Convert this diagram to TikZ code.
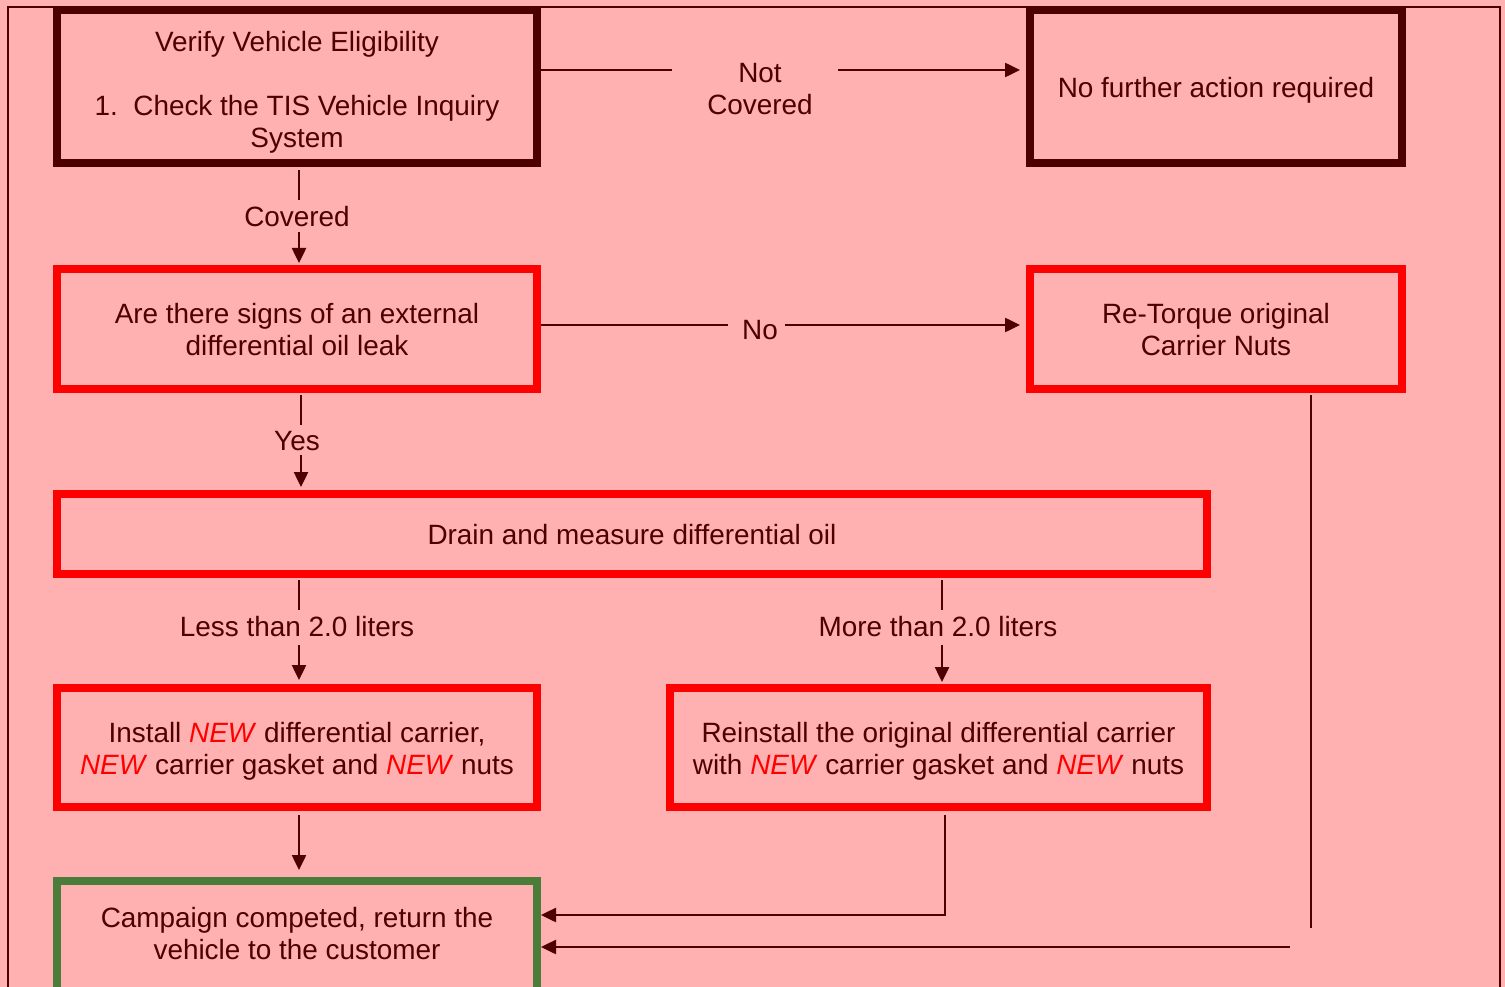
\documentclass[tikz,border=0pt]{standalone}
\usepackage{fontspec}
\setmainfont{Liberation Sans}
\usetikzlibrary{arrows.meta}
\definecolor{bg}{HTML}{FFB0B0}
\definecolor{dk}{HTML}{4D0000}
\definecolor{rd}{HTML}{FF0000}
\definecolor{gr}{HTML}{4A7D3A}
\newcommand\dfont{\fontsize{27.9pt}{32pt}\selectfont}
\newcommand\NEW{\textcolor{rd}{\textit{NEW}}}
\begin{document}
\begin{tikzpicture}[x=1pt,y=-1pt,
  every node/.style={font=\dfont, text=dk},
  box/.style={draw=#1, line width=8pt, inner sep=0pt, outer sep=4pt},
  lbl/.style={align=center, inner sep=0pt},
  conn/.style={draw=dk, line width=2.5pt},
  arr/.style={conn, -{Triangle[length=15pt,width=14pt]}}
]
\useasboundingbox (0,0) rectangle (1505,987);
\clip (0,0) rectangle (1505,987);
\fill[bg] (0,0) rectangle (1505,987);
\draw[dk, line width=2pt] (8,7) rectangle (1500,1020);

% boxes
\node[box=dk, minimum width=480pt, minimum height=153pt] (verify) at (297,86.5) {};
\node[box=dk, minimum width=372pt, minimum height=153pt] (nofurther) at (1216,86.5) {};
\node[box=rd, minimum width=480pt, minimum height=120pt] (check) at (297,329) {};
\node[box=rd, minimum width=372pt, minimum height=120pt] (retorque) at (1216,329) {};
\node[box=rd, minimum width=1150pt, minimum height=80pt] (drain) at (632,534) {};
\node[box=rd, minimum width=480pt, minimum height=119pt] (install) at (297,747.5) {};
\node[box=rd, minimum width=537pt, minimum height=119pt] (reinstall) at (938.5,747.5) {};
\node[box=gr, minimum width=480pt, minimum height=120pt] (campaign) at (297,941) {};

% box texts
\node[lbl] (verifyT) at (297,92)
  {Verify Vehicle Eligibility\\[32pt]1.\ \ Check the TIS Vehicle Inquiry\\System};
\node[lbl] (nofurtherT) at (1216,90.5) {No further action required};
\node[lbl] (checkT) at (297,330) {Are there signs of an external\\differential oil leak};
\node[lbl] (retorqueT) at (1216,330) {Re-Torque original\\Carrier Nuts};
\node[lbl] (drainT) at (632,535) {Drain and measure differential oil};
\node[lbl] (installT) at (297,751.5)
  {Install \NEW{} differential carrier,\\\NEW{} carrier gasket and \NEW{} nuts};
\node[lbl] (reinstallT) at (938.5,751.5)
  {Reinstall the original differential carrier\\with \NEW{} carrier gasket and \NEW{} nuts};
\node[lbl] (campaignT) at (297,934) {Campaign competed, return the\\vehicle to the customer};

% connector labels
\node[lbl] (nc) at (760,89) {Not\\Covered};
\node[lbl] (cov) at (297,217) {Covered};
\node[lbl] (no) at (760,330.5) {No};
\node[lbl] (yes) at (297,441.5) {Yes};
\node[lbl] (less) at (297,626.5) {Less than 2.0 liters};
\node[lbl] (more) at (938,626.5) {More than 2.0 liters};

% connector points
\coordinate (ncL) at (672,70);
\coordinate (ncR) at (838,70);
\coordinate (covT) at (299,200);
\coordinate (covB) at (299,232);
\coordinate (noL) at (728,325);
\coordinate (noR) at (785,325);
\coordinate (yesT) at (301,425);
\coordinate (yesB) at (301,455);
\coordinate (lessT) at (299,610);
\coordinate (lessB) at (299,645);
\coordinate (moreT) at (942,610);
\coordinate (moreB) at (942,645);
\coordinate (instX) at (299,820);
\coordinate (c7) at (945,915);
\coordinate (r1) at (1311,928);
\coordinate (r2) at (1290,947);

% connectors
\draw[conn] (verify.east |- ncL) -- (ncL);
\draw[arr, shorten >=6pt] (ncR) -- (nofurther.west |- ncR);
\draw[conn, shorten <=3pt] (verify.south -| covT) -- (covT);
\draw[arr, shorten >=2pt] (covB) -- (check.north -| covB);
\draw[conn] (check.east |- noL) -- (noL);
\draw[arr, shorten >=6pt] (noR) -- (retorque.west |- noR);
\draw[conn, shorten <=2pt] (check.south -| yesT) -- (yesT);
\draw[arr, shorten >=3pt] (yesB) -- (drain.north -| yesB);
\draw[conn, shorten <=2pt] (drain.south -| lessT) -- (lessT);
\draw[arr, shorten >=4pt] (lessB) -- (install.north -| lessB);
\draw[conn, shorten <=2pt] (drain.south -| moreT) -- (moreT);
\draw[arr, shorten >=2pt] (moreB) -- (reinstall.north -| moreB);
\draw[arr, shorten <=4pt, shorten >=7pt] (install.south -| instX) -- (campaign.north -| instX);
\draw[arr, shorten <=4pt] (reinstall.south -| c7) -- (c7) -- (campaign.east |- c7);
\draw[conn, shorten <=2pt] (retorque.south -| r1) -- (r1);
\draw[arr] (r2) -- (campaign.east |- r2);
\end{tikzpicture}
\end{document}
